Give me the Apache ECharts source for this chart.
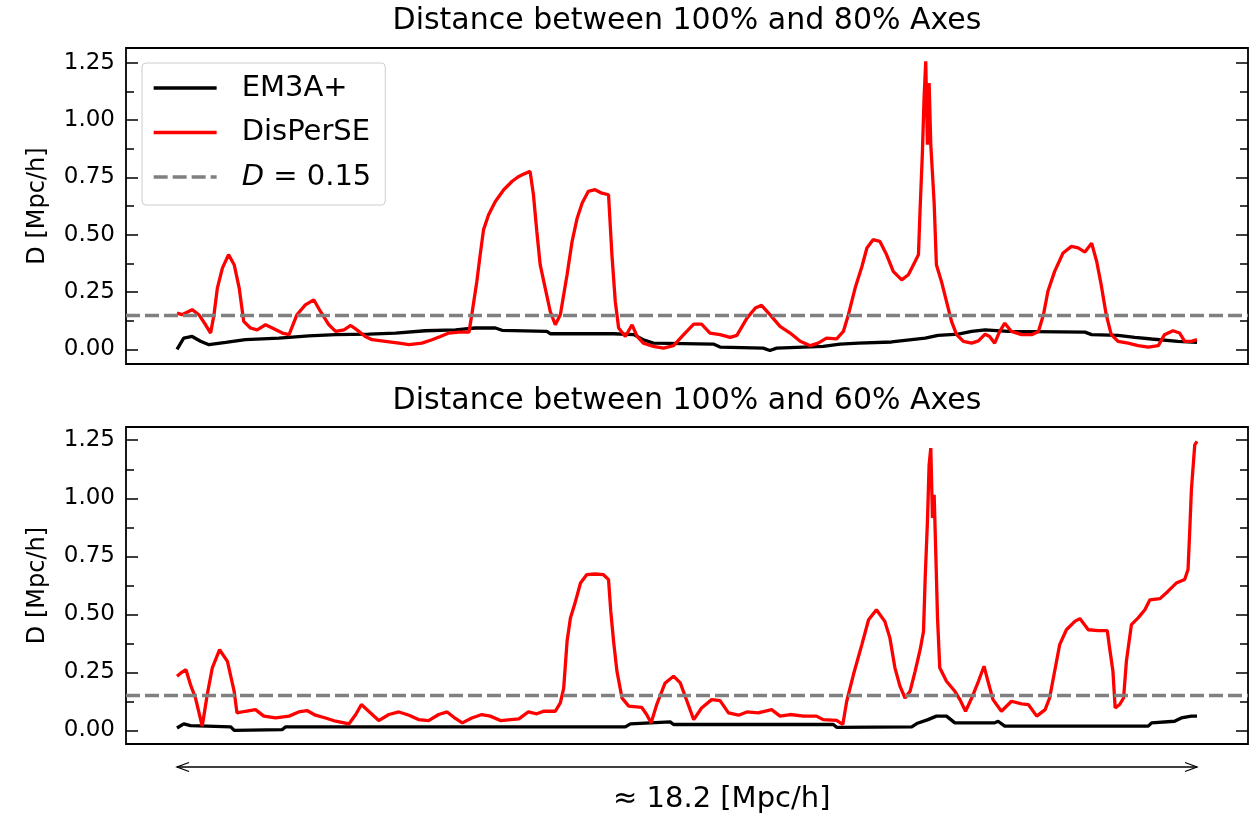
<!DOCTYPE html>
<html>
<head>
<meta charset="utf-8">
<script src="https://cdn.jsdelivr.net/npm/echarts@6/dist/echarts.min.js"></script>
<style>
  html, body { margin: 0; padding: 0; background: #fff; }
  #chart { width: 1256px; height: 818px; }
</style>
</head>
<body>
<div id="chart"></div>
<script>
const FONT = 'DejaVu Sans';

const TITLES = ['Distance between 100% and 80% Axes', 'Distance between 100% and 60% Axes'];
const SERIES_NAMES = ['EM3A+', 'DisPerSE', 'D = 0.15'];
const Y_TICKS = [0, 0.25, 0.5, 0.75, 1.0, 1.25];
const Y_MINOR = [0.125, 0.375, 0.625, 0.875, 1.125];
const THRESHOLD = 0.15;
const SPAN = 18.2;            // length of the traced axis, Mpc/h
const Y_RANGE_TOP = [-0.064, 1.314];
const Y_RANGE_BOTTOM = [-0.058, 1.307];

// [position along axis (Mpc/h), D (Mpc/h)] — 100% vs 80% axes
const topEM3A = [[0,0.000],[0.12,0.049],[0.27,0.056],[0.42,0.035],[0.57,0.020],[0.87,0.030],[1.22,0.042],[1.82,0.049],[2.35,0.059],[2.83,0.064],[3.42,0.066],[3.90,0.071],[4.43,0.081],[4.97,0.085],[5.32,0.093],[5.68,0.093],[5.80,0.083],[6.60,0.078],[6.66,0.068],[7.79,0.068],[8.15,0.064],[8.32,0.042],[8.50,0.027],[9.57,0.023],[9.69,0.010],[10.46,0.005],[10.58,-0.005],[10.70,0.005],[11.53,0.013],[11.83,0.023],[12.16,0.027],[12.75,0.032],[13.35,0.049],[13.58,0.061],[13.94,0.066],[14.18,0.078],[14.42,0.085],[14.83,0.078],[16.20,0.075],[16.32,0.064],[16.79,0.061],[17.09,0.052],[17.39,0.045],[17.86,0.035],[18.20,0.030]];

const topDisPerSE = [[0,0.158],[0.09,0.151],[0.27,0.173],[0.39,0.151],[0.51,0.107],[0.60,0.071],[0.66,0.151],[0.72,0.267],[0.81,0.354],[0.92,0.413],[1.02,0.369],[1.11,0.267],[1.19,0.122],[1.31,0.093],[1.43,0.085],[1.58,0.107],[1.70,0.093],[1.88,0.071],[2.00,0.064],[2.14,0.151],[2.29,0.194],[2.44,0.216],[2.56,0.165],[2.71,0.107],[2.83,0.078],[2.98,0.085],[3.10,0.104],[3.21,0.085],[3.36,0.056],[3.48,0.042],[3.72,0.035],[3.96,0.027],[4.14,0.020],[4.37,0.027],[4.55,0.042],[4.70,0.056],[4.85,0.071],[5.03,0.075],[5.21,0.075],[5.26,0.151],[5.35,0.296],[5.41,0.413],[5.47,0.522],[5.56,0.587],[5.68,0.645],[5.83,0.696],[5.98,0.733],[6.10,0.754],[6.16,0.761],[6.30,0.776],[6.36,0.674],[6.42,0.514],[6.48,0.369],[6.57,0.267],[6.66,0.165],[6.75,0.107],[6.84,0.151],[6.96,0.325],[7.05,0.471],[7.14,0.572],[7.23,0.638],[7.34,0.689],[7.46,0.696],[7.58,0.681],[7.70,0.674],[7.76,0.413],[7.82,0.209],[7.88,0.093],[8.00,0.056],[8.12,0.107],[8.21,0.056],[8.32,0.027],[8.50,0.013],[8.68,0.005],[8.86,0.016],[9.04,0.064],[9.22,0.110],[9.36,0.110],[9.51,0.071],[9.69,0.064],[9.87,0.052],[9.99,0.061],[10.17,0.136],[10.32,0.180],[10.43,0.192],[10.58,0.151],[10.76,0.100],[10.94,0.071],[11.12,0.035],[11.30,0.016],[11.44,0.027],[11.59,0.049],[11.77,0.046],[11.89,0.078],[11.98,0.151],[12.10,0.267],[12.22,0.360],[12.31,0.442],[12.42,0.478],[12.54,0.471],[12.66,0.413],[12.78,0.340],[12.93,0.303],[13.05,0.325],[13.17,0.383],[13.23,0.413],[13.26,0.616],[13.30,0.856],[13.33,1.096],[13.36,1.256],[13.39,0.892],[13.42,1.161],[13.45,0.892],[13.51,0.638],[13.55,0.369],[13.64,0.296],[13.73,0.209],[13.82,0.122],[13.91,0.064],[14.03,0.035],[14.18,0.027],[14.30,0.037],[14.42,0.066],[14.50,0.056],[14.59,0.027],[14.68,0.078],[14.77,0.114],[14.89,0.078],[15.07,0.064],[15.25,0.064],[15.37,0.078],[15.46,0.151],[15.54,0.253],[15.66,0.340],[15.81,0.420],[15.96,0.449],[16.08,0.442],[16.20,0.424],[16.32,0.463],[16.41,0.383],[16.49,0.282],[16.58,0.151],[16.67,0.064],[16.79,0.035],[16.97,0.027],[17.15,0.016],[17.33,0.010],[17.51,0.016],[17.62,0.064],[17.77,0.081],[17.89,0.071],[17.98,0.035],[18.10,0.035],[18.20,0.042]];

// 100% vs 60% axes
const botEM3A = [[0,0.011],[0.12,0.029],[0.24,0.021],[0.96,0.016],[1.02,0.001],[1.88,0.004],[1.94,0.016],[8.00,0.016],[8.09,0.029],[8.80,0.037],[8.86,0.026],[11.71,0.026],[11.77,0.014],[13.11,0.016],[13.20,0.030],[13.40,0.047],[13.55,0.062],[13.73,0.062],[13.88,0.033],[14.59,0.033],[14.65,0.040],[14.77,0.019],[17.33,0.019],[17.39,0.033],[17.80,0.040],[17.92,0.054],[18.10,0.062],[18.20,0.062]];

const botDisPerSE = [[0,0.234],[0.07,0.248],[0.16,0.262],[0.24,0.198],[0.33,0.140],[0.45,0.019],[0.54,0.155],[0.63,0.270],[0.76,0.348],[0.90,0.298],[1.02,0.169],[1.07,0.076],[1.22,0.083],[1.40,0.090],[1.55,0.062],[1.76,0.054],[2.00,0.062],[2.17,0.080],[2.32,0.086],[2.47,0.066],[2.65,0.054],[2.83,0.040],[3.07,0.029],[3.19,0.069],[3.29,0.112],[3.42,0.083],[3.60,0.043],[3.78,0.069],[3.96,0.080],[4.14,0.066],[4.31,0.047],[4.49,0.043],[4.67,0.069],[4.82,0.080],[4.94,0.057],[5.09,0.033],[5.26,0.054],[5.44,0.069],[5.59,0.062],[5.77,0.043],[6.10,0.050],[6.27,0.080],[6.42,0.072],[6.54,0.083],[6.75,0.083],[6.84,0.119],[6.90,0.183],[6.96,0.384],[7.02,0.485],[7.11,0.556],[7.20,0.635],[7.31,0.671],[7.46,0.674],[7.61,0.671],[7.70,0.650],[7.74,0.513],[7.79,0.384],[7.85,0.255],[7.94,0.140],[8.06,0.105],[8.29,0.100],[8.38,0.069],[8.46,0.033],[8.56,0.112],[8.71,0.205],[8.86,0.234],[8.98,0.205],[9.10,0.126],[9.22,0.047],[9.36,0.097],[9.54,0.133],[9.69,0.129],[9.84,0.076],[10.02,0.066],[10.17,0.080],[10.37,0.076],[10.61,0.090],[10.76,0.062],[10.94,0.069],[11.18,0.062],[11.41,0.062],[11.53,0.047],[11.77,0.044],[11.88,0.026],[11.95,0.126],[12.07,0.241],[12.22,0.370],[12.34,0.477],[12.48,0.520],[12.63,0.470],[12.72,0.399],[12.81,0.270],[12.90,0.191],[12.99,0.140],[13.08,0.169],[13.17,0.255],[13.26,0.348],[13.32,0.427],[13.35,0.657],[13.39,0.900],[13.42,1.144],[13.45,1.216],[13.48,0.915],[13.51,1.015],[13.54,0.757],[13.57,0.485],[13.61,0.270],[13.73,0.212],[13.88,0.169],[13.97,0.133],[14.07,0.083],[14.18,0.140],[14.30,0.212],[14.40,0.277],[14.47,0.212],[14.56,0.133],[14.71,0.083],[14.89,0.126],[15.07,0.115],[15.19,0.112],[15.34,0.062],[15.49,0.090],[15.57,0.140],[15.66,0.255],[15.75,0.370],[15.87,0.434],[16.02,0.470],[16.11,0.482],[16.26,0.434],[16.44,0.430],[16.60,0.430],[16.64,0.356],[16.70,0.255],[16.74,0.097],[16.82,0.112],[16.89,0.140],[16.94,0.298],[17.03,0.456],[17.15,0.485],[17.27,0.520],[17.36,0.563],[17.54,0.568],[17.68,0.599],[17.83,0.635],[17.98,0.650],[18.04,0.693],[18.07,0.857],[18.10,1.037],[18.16,1.230],[18.20,1.245]];

const chart = echarts.init(document.getElementById('chart'), null, { renderer: 'canvas' });

const GRIDS = [
  { left: 126, right: 8, top: 48, height: 316 },
  { left: 126, right: 8, top: 427, height: 317 }
];

function yAxesFor(gridIndex, range) {
  const base = {
    gridIndex, type: 'value', min: range[0], max: range[1],
    axisLine: { show: false, onZero: false }, splitLine: { show: false }
  };
  const tickStyle = { color: '#000', width: 1.5 };
  return [
    Object.assign({}, base, {
      position: 'left',
      name: 'D [Mpc/h]', nameLocation: 'middle', nameGap: 76, nameRotate: 90,
      nameTextStyle: { fontSize: 24, fontFamily: FONT, color: '#000' },
      axisTick: { show: true, inside: true, length: 12, lineStyle: tickStyle, customValues: Y_TICKS },
      axisLabel: { show: true, customValues: Y_TICKS, formatter: v => Number(v).toFixed(2),
                   margin: 11, color: '#000', fontSize: 23, fontFamily: FONT }
    }),
    Object.assign({}, base, {
      position: 'left',
      axisTick: { show: true, inside: true, length: 8, lineStyle: tickStyle, customValues: Y_MINOR },
      axisLabel: { show: false }
    }),
    Object.assign({}, base, {
      position: 'right',
      axisTick: { show: true, inside: true, length: 12, lineStyle: tickStyle, customValues: Y_TICKS },
      axisLabel: { show: false }
    }),
    Object.assign({}, base, {
      position: 'right',
      axisTick: { show: true, inside: true, length: 8, lineStyle: tickStyle, customValues: Y_MINOR },
      axisLabel: { show: false }
    })
  ];
}

const DASH = [14, 5];
const LW = 3.3;

function panelSeries(gridIndex, em3a, disperse) {
  const xi = gridIndex, yi = gridIndex * 4;
  return [
    { name: SERIES_NAMES[0], type: 'line', xAxisIndex: xi, yAxisIndex: yi, data: em3a,
      symbol: 'none', lineStyle: { color: '#000000', width: LW }, itemStyle: { color: '#000000' }, z: 2 },
    { name: SERIES_NAMES[1], type: 'line', xAxisIndex: xi, yAxisIndex: yi, data: disperse,
      symbol: 'none', lineStyle: { color: '#ff0000', width: LW }, itemStyle: { color: '#ff0000' }, z: 3 },
    { name: SERIES_NAMES[2], type: 'line', xAxisIndex: xi, yAxisIndex: yi, data: [],
      symbol: 'none', lineStyle: { color: '#808080', width: LW, type: DASH }, itemStyle: { color: '#808080' }, z: 4,
      markLine: { silent: true, symbol: 'none', label: { show: false },
                  lineStyle: { color: '#808080', width: LW, type: DASH },
                  data: [{ yAxis: THRESHOLD }] } }
  ];
}

const xMin = -0.05 * SPAN, xMax = 1.05 * SPAN;
const centerX = GRIDS[0].left + (1256 - GRIDS[0].left - GRIDS[0].right) / 2;

const option = {
  animation: false,
  backgroundColor: '#ffffff',
  textStyle: { fontFamily: FONT },
  title: TITLES.map((t, i) => ({
    text: t, left: centerX, top: i === 0 ? 6 : 386, textAlign: 'center', padding: 0,
    textStyle: { fontSize: 30, fontWeight: 'normal', fontFamily: FONT, color: '#000' }
  })),
  grid: GRIDS.map(g => Object.assign({}, g, {
    show: true, borderColor: '#000', borderWidth: 1.8, backgroundColor: 'transparent',
    containLabel: false, outerBoundsMode: 'none'
  })),
  xAxis: [0, 1].map(i => ({ gridIndex: i, type: 'value', min: xMin, max: xMax, show: false,
                            axisLine: { onZero: false } })),
  yAxis: yAxesFor(0, Y_RANGE_TOP).concat(yAxesFor(1, Y_RANGE_BOTTOM)),
  legend: {
    data: SERIES_NAMES, orient: 'vertical', left: 142, top: 63,
    itemWidth: 63, itemHeight: 28, itemGap: 15.5,
    padding: [10.5, 14, 13.5, 10],
    backgroundColor: 'rgba(255,255,255,0.8)', borderColor: '#cccccc', borderWidth: 1, borderRadius: 4,
    selectedMode: false,
    itemStyle: { opacity: 0 },
    lineStyle: { width: LW },
    formatter: name => name === 'D = 0.15' ? '{it|D} = 0.15' : name,
    textStyle: {
      fontSize: 29, fontFamily: FONT, color: '#000', padding: [0, 0, 0, 20],
      rich: { it: { fontStyle: 'italic', fontSize: 29, fontFamily: FONT, color: '#000' } }
    }
  },
  series: panelSeries(0, topEM3A, topDisPerSE).concat(panelSeries(1, botEM3A, botDisPerSE))
};

chart.setOption(option);

// Double-headed arrow under the lower panel spanning the traced axis, with its length label
const ax0 = chart.convertToPixel({ xAxisIndex: 1 }, 0);
const ax1 = chart.convertToPixel({ xAxisIndex: 1 }, SPAN);
const arrowY = 767, headL = 12, headW = 4.5;
chart.setOption({
  graphic: [
    { type: 'line', shape: { x1: ax0, y1: arrowY, x2: ax1, y2: arrowY }, style: { stroke: '#000', lineWidth: 1.3 } },
    { type: 'polyline', shape: { points: [[ax0 + headL, arrowY - headW], [ax0, arrowY], [ax0 + headL, arrowY + headW]] },
      style: { stroke: '#000', lineWidth: 1.3, fill: null } },
    { type: 'polyline', shape: { points: [[ax1 - headL, arrowY - headW], [ax1, arrowY], [ax1 - headL, arrowY + headW]] },
      style: { stroke: '#000', lineWidth: 1.3, fill: null } },
    { type: 'text', x: 613, y: 799,
      style: { text: '\u2248 ' + SPAN + ' [Mpc/h]', fontSize: 29, fontFamily: FONT, fill: '#000',
               align: 'left', verticalAlign: 'middle' } }
  ]
});
</script>
</body>
</html>
